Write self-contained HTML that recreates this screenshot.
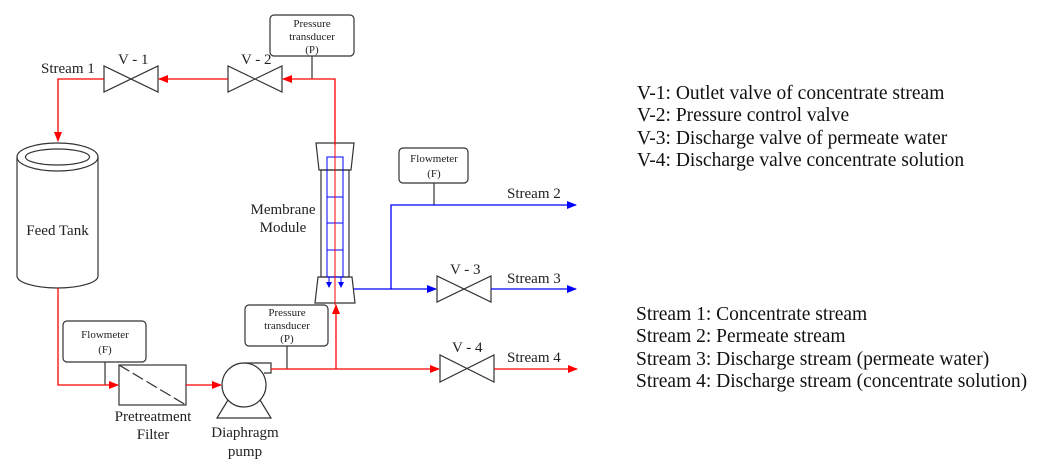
<!DOCTYPE html>
<html><head><meta charset="utf-8"><style>
html,body{margin:0;padding:0;background:#fff;}
svg{display:block;font-family:"Liberation Serif",serif;}
</style></head><body>
<svg width="1044" height="469" viewBox="0 0 1044 469" xmlns="http://www.w3.org/2000/svg">
<defs>
<marker id="ar" markerWidth="10" markerHeight="8" refX="9" refY="4" orient="auto" markerUnits="userSpaceOnUse"><path d="M0,0 L10,4 L0,8 Z" fill="#f00"/></marker>
<marker id="ab" markerWidth="10" markerHeight="8" refX="9" refY="4" orient="auto" markerUnits="userSpaceOnUse"><path d="M0,0 L10,4 L0,8 Z" fill="#00f"/></marker>
<marker id="abs" markerWidth="6" markerHeight="6" refX="5" refY="3" orient="auto" markerUnits="userSpaceOnUse"><path d="M0,0 L6,3 L0,6 Z" fill="#00f"/></marker>
</defs>
<g fill="none" stroke="#333" stroke-width="1.2">
<rect x="270" y="15" width="84" height="41" rx="4"/>
<rect x="399" y="148" width="69" height="35" rx="4"/>
<rect x="63" y="321" width="83" height="41" rx="4"/>
<rect x="245" y="305" width="83" height="41" rx="4"/>
<line x1="312" y1="56" x2="312" y2="79"/>
<line x1="434" y1="183" x2="434" y2="205"/>
<line x1="105" y1="362" x2="105" y2="385"/>
<line x1="287" y1="346" x2="287" y2="369"/>
<path d="M104,66 L104,92 L158,66 L158,92 Z"/>
<path d="M228,66 L228,92 L282,66 L282,92 Z"/>
<path d="M437,276 L437,302 L491,276 L491,302 Z"/>
<path d="M440,355 L440,382 L494,355 L494,382 Z"/>
<ellipse cx="57.5" cy="157" rx="40.5" ry="14"/>
<ellipse cx="57.5" cy="157" rx="32" ry="8"/>
<path d="M17,157 L17,276 A40.5,12 0 0 0 98,276 L98,157"/>
<rect x="119" y="365" width="67" height="40"/>
<line x1="119" y1="365" x2="186" y2="405" stroke-dasharray="12,4"/>
<circle cx="244" cy="385" r="22"/>
<path d="M244,363 L271,363 L271,373 L264,373"/>
<path d="M228,400 L217,418 L271,418 L260,400"/>
<path d="M316,143 L354,143 L351,170 L319,170 Z"/>
<rect x="321" y="170" width="28" height="107"/>
<path d="M318,277 L352,277 L355,303 L315,303 Z"/>
</g>
<g fill="none" stroke="#00f" stroke-width="1">
<rect x="327" y="157" width="16" height="120"/>
<line x1="327" y1="197" x2="343" y2="197"/>
<line x1="327" y1="223" x2="343" y2="223"/>
<line x1="327" y1="250" x2="343" y2="250"/>
<line x1="329" y1="277" x2="329" y2="287" marker-end="url(#abs)"/>
<line x1="341" y1="277" x2="341" y2="287" marker-end="url(#abs)"/>
</g>
<g fill="none" stroke="#f00" stroke-width="1.3">
<path d="M335,145 L335,79 L283,79" marker-end="url(#ar)"/>
<path d="M228,79 L159,79" marker-end="url(#ar)"/>
<path d="M104,79 L58,79 L58,141" marker-end="url(#ar)"/>
<path d="M58,288 L58,385 L118,385" marker-end="url(#ar)"/>
<path d="M186,385 L221,385" marker-end="url(#ar)"/>
<path d="M271,369 L439,369" marker-end="url(#ar)"/>
<path d="M494,369 L577,369" marker-end="url(#ar)"/>
<path d="M336,369 L336,305" marker-end="url(#ar)"/>
<line x1="335" y1="305" x2="335" y2="145" stroke-width="1"/>
</g>
<g fill="none" stroke="#00f" stroke-width="1.3">
<path d="M354,289 L436,289" marker-end="url(#ab)"/>
<path d="M491,289 L576,289" marker-end="url(#ab)"/>
<path d="M391,289 L391,205 L576,205" marker-end="url(#ab)"/>
</g>
<g fill="#222" font-size="15">
<text x="41" y="73">Stream 1</text>
<text x="118" y="64">V - 1</text>
<text x="241" y="64">V - 2</text>
<text x="450" y="274">V - 3</text>
<text x="452" y="352">V - 4</text>
<text x="507" y="198">Stream 2</text>
<text x="507" y="283">Stream 3</text>
<text x="507" y="362">Stream 4</text>
<text x="57.5" y="235" text-anchor="middle">Feed Tank</text>
<text x="283" y="214" text-anchor="middle">Membrane</text>
<text x="283" y="232" text-anchor="middle">Module</text>
<text x="153" y="421" text-anchor="middle">Pretreatment</text>
<text x="153" y="439" text-anchor="middle">Filter</text>
<text x="245" y="437" text-anchor="middle">Diaphragm</text>
<text x="245" y="456" text-anchor="middle">pump</text>
</g>
<g fill="#222" font-size="11" text-anchor="middle">
<text x="312" y="27">Pressure</text>
<text x="312" y="40">transducer</text>
<text x="312" y="53">(P)</text>
<text x="287" y="316">Pressure</text>
<text x="287" y="329">transducer</text>
<text x="287" y="342">(P)</text>
<text x="105" y="338">Flowmeter</text>
<text x="105" y="353">(F)</text>
<text x="434" y="162">Flowmeter</text>
<text x="434" y="177">(F)</text>
</g>
<g fill="#111" font-size="19.5">
<text x="637" y="99">V-1: Outlet valve of concentrate stream</text>
<text x="637" y="121">V-2: Pressure control valve</text>
<text x="637" y="144">V-3: Discharge valve of permeate water</text>
<text x="637" y="166">V-4: Discharge valve concentrate solution</text>
<text x="636" y="320">Stream 1: Concentrate stream</text>
<text x="636" y="342">Stream 2: Permeate stream</text>
<text x="636" y="365">Stream 3: Discharge stream (permeate water)</text>
<text x="636" y="387">Stream 4: Discharge stream (concentrate solution)</text>
</g>
</svg>
</body></html>
